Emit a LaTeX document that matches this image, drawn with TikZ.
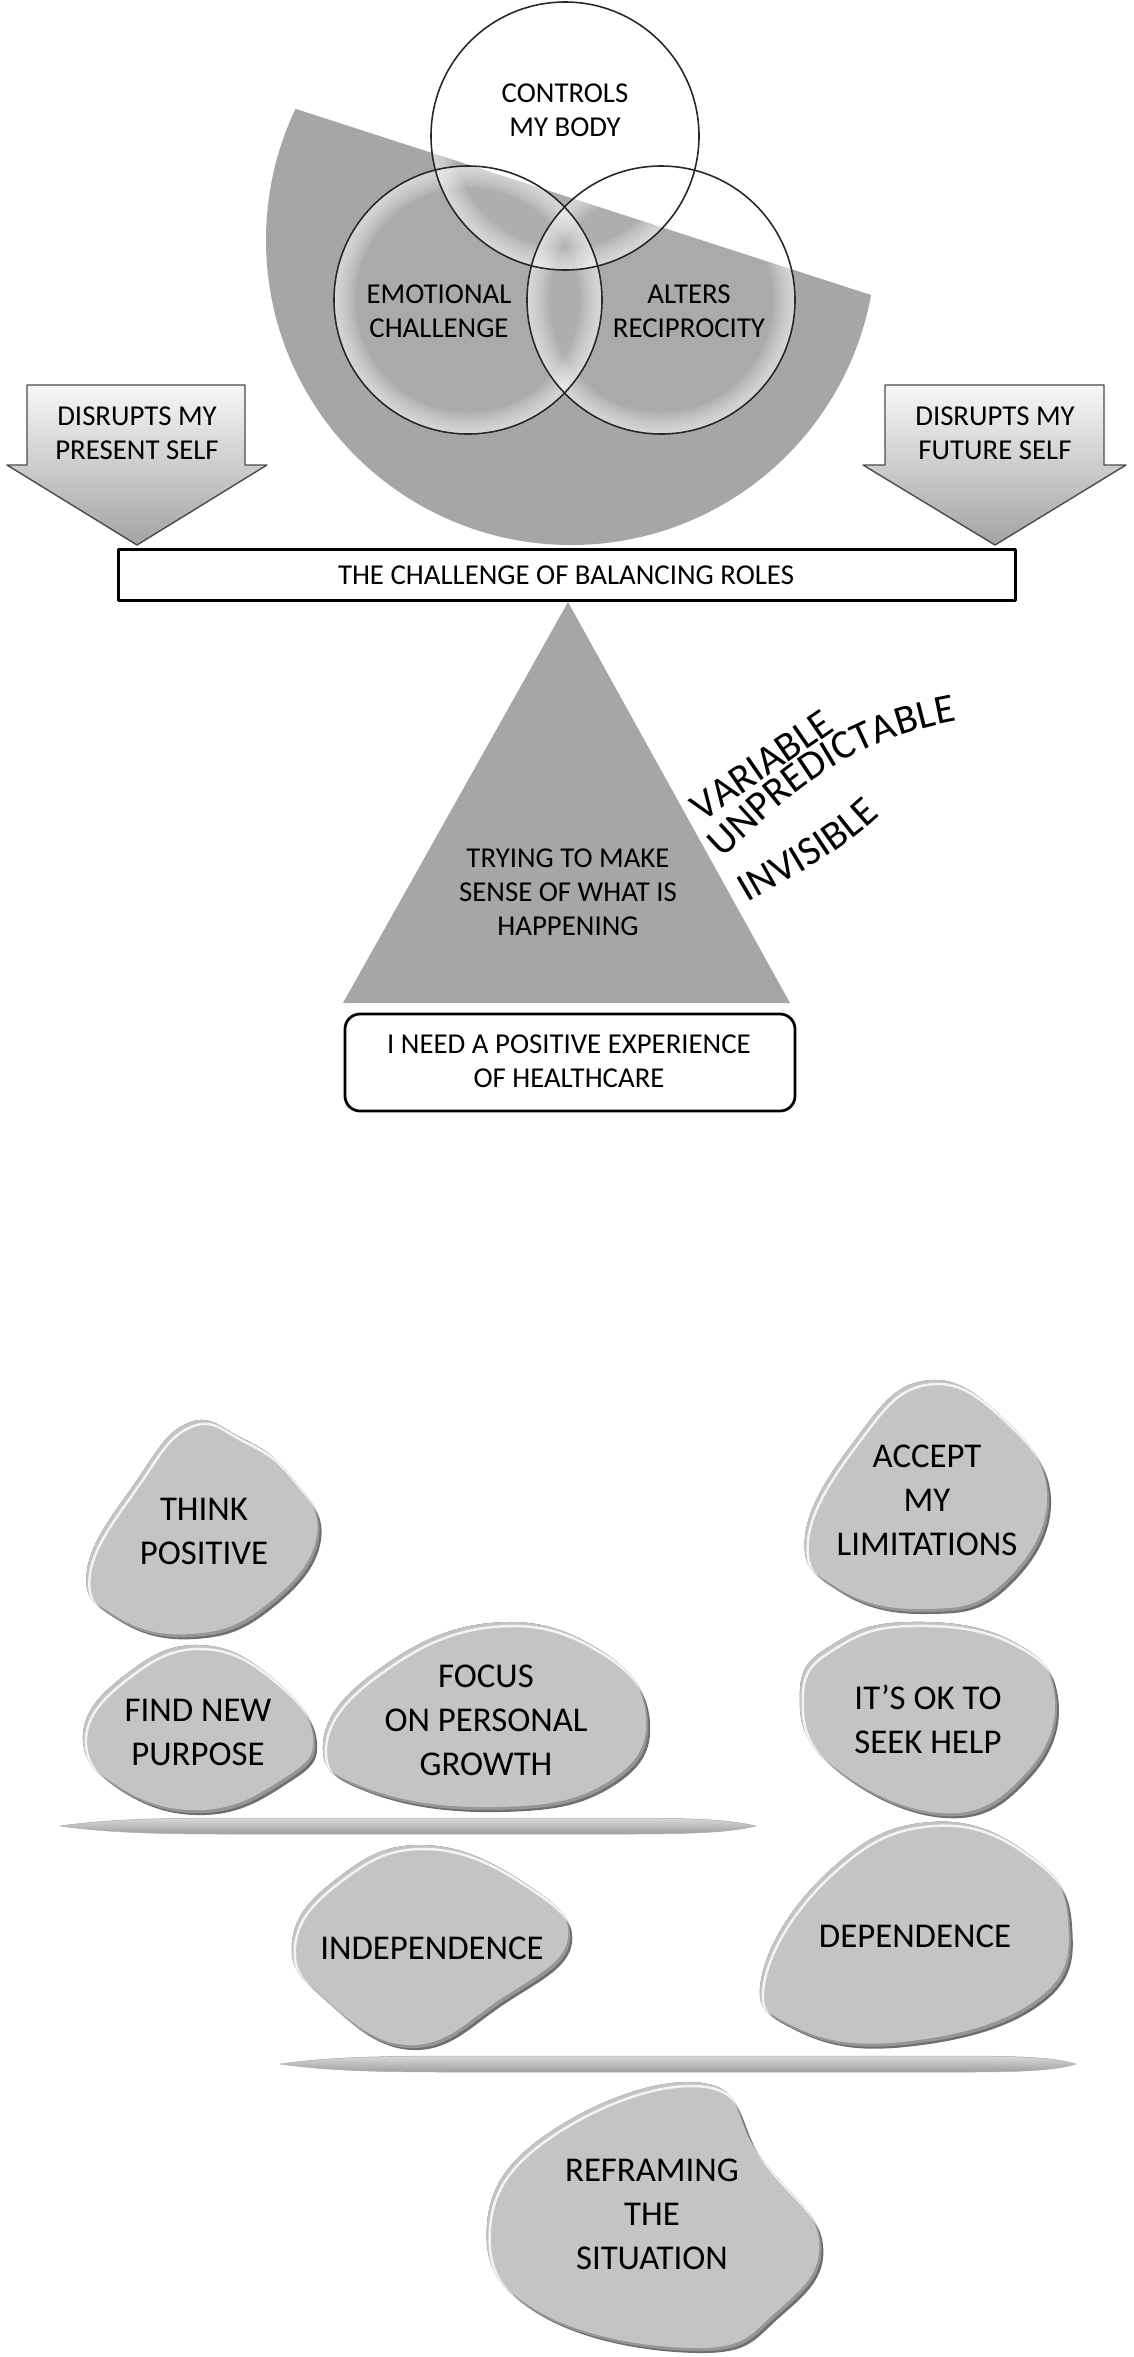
\documentclass[tikz,border=0pt]{standalone}
\usepackage{fontspec}
\setmainfont{Carlito}
\usetikzlibrary{decorations.text}

\newcommand{\toplbl}{\fontsize{16.4}{19.5}\selectfont}
\newcommand{\stonelbl}{\fontsize{19.8}{25}\selectfont}
\newcommand{\wavelbl}{\fontsize{23.3}{27}\selectfont}

% one pebble: dark rim, mid rim, face, gloss
\newcommand{\pebble}[1]{%
  \fill[stonerim] plot[smooth cycle,tension=0.75] coordinates {#1};
  \begin{scope}
    \clip plot[smooth cycle,tension=0.75] coordinates {#1};
    \fill[stonemid,shift={(-2,-2)}] plot[smooth cycle,tension=0.75] coordinates {#1};
    \fill[stonefill,shift={(-4,-5)}] plot[smooth cycle,tension=0.75] coordinates {#1};
    \draw[stonegloss,shift={(3,4)}] plot[smooth cycle,tension=0.75] coordinates {#1};
  \end{scope}}

\begin{document}
\begin{tikzpicture}[x=0.02cm,y=-0.02cm,line join=round,
  lbl/.style={font=\toplbl,align=center},
  pebblelbl/.style={font=\stonelbl,align=center},
  ring/.style={draw=ringline,line width=0.9pt},
  downarrow/.style={top color=gray!6,bottom color=gray!72,draw=black!70,line width=0.8pt},
  rodshade/.style={top color=gray!30,middle color=white,bottom color=gray!75,draw=gray!65,line width=0.3pt},
  stonegloss/.style={white,opacity=0.8,line width=0.05cm}]
  \definecolor{discgray}{RGB}{166,166,166}
  \definecolor{stonefill}{RGB}{196,196,196}
  \definecolor{stonemid}{RGB}{150,150,150}
  \definecolor{stonerim}{RGB}{110,110,110}
  \definecolor{ringline}{RGB}{40,40,40}

  \fill[white] (0,0) rectangle (1133,2357);
  \useasboundingbox (0,0) rectangle (1133,2357);

  % ---- cut disc behind the circles ----
  \begin{scope}
    \clip (200,77.9) -- (1000,336.7) -- (1000,700) -- (200,700) -- cycle;
    \fill[discgray] (571,240) circle[radius=305];
  \end{scope}

  % ---- three overlapping circles ----
  \foreach \cx/\cy in {565/136,468/300,661/300}{
    \begin{scope}
      \clip (\cx,\cy) circle[radius=134];
      \fill[white,opacity=0.05] (\cx,\cy) circle[radius=134];
      \foreach \w in {4,8,...,44}
        \draw[white,opacity=0.07,line width=\w*0.02cm] (\cx,\cy) circle[radius=134];
    \end{scope}}
  \foreach \cx/\cy in {565/136,468/300,661/300}
    \draw[ring] (\cx,\cy) circle[radius=134];
  \node[lbl] (body) at (565,110) {CONTROLS\\MY BODY};
  \node[lbl] (emo) at (439,311) {EMOTIONAL\\CHALLENGE};
  \node[lbl] (recip) at (689,311) {ALTERS\\RECIPROCITY};

  % ---- side arrows ----
  \shadedraw[downarrow] (27,385) -- (245,385) -- (245,465) -- (267,465)
    -- (137,545) -- (7,465) -- (27,465) -- cycle;
  \shadedraw[downarrow] (885,385) -- (1104,385) -- (1104,465) -- (1126,465)
    -- (995,545) -- (863,465) -- (885,465) -- cycle;
  \node[lbl] (present) at (137,433) {DISRUPTS MY\\PRESENT SELF};
  \node[lbl] (future) at (995,433) {DISRUPTS MY\\FUTURE SELF};

  % ---- beam and fulcrum ----
  \draw[fill=white,line width=0.06cm] (118,549) rectangle (1015,600);
  \node[lbl] (roles) at (566,575) {THE CHALLENGE OF BALANCING ROLES};
  \fill[discgray] (568,602) -- (790,1003) -- (343,1003) -- cycle;
  \node[lbl] (sense) at (568,892) {TRYING TO MAKE\\SENSE OF WHAT IS\\HAPPENING};
  \draw[fill=white,line width=0.055cm,rounded corners=0.3cm] (345,1014) rectangle (795,1111);
  \node[lbl] (care) at (569,1061) {I NEED A POSITIVE EXPERIENCE\\OF HEALTHCARE};

  % wavy words
  \path[decorate,decoration={text along path,text={|\wavelbl|VARIABLE}}]
    (702,822) -- (850,720);
  \path[decorate,decoration={text along path,text={|\wavelbl|UNPREDICTABLE}}]
    (722,858) .. controls (790,795) and (850,735) .. (975,718);
  \path[decorate,decoration={text along path,text={|\wavelbl|INVISIBLE}}]
    (748,903) .. controls (790,878) and (845,852) .. (890,805);

  % ---- pebbles ----
  \pebble{(188,1423) (240,1437) (290,1475) (321,1540) (270,1610) (195,1639) (118,1620) (87,1570) (137,1480)}
  \node[pebblelbl] (think) at (204,1531) {THINK\\POSITIVE};
  \pebble{(200,1645) (275,1680) (317,1742) (285,1785) (205,1815) (120,1790) (83,1735) (125,1675)}
  \node[pebblelbl] (purpose) at (198,1732) {FIND NEW\\PURPOSE};
  \pebble{(490,1623) (600,1650) (650,1722) (610,1788) (500,1812) (370,1793) (323,1745) (375,1672)}
  \node[pebblelbl] (growth) at (486,1720) {FOCUS\\ON PERSONAL\\GROWTH};
  \pebble{(923,1381) (1000,1415) (1051,1500) (1005,1590) (925,1614) (840,1592) (805,1537) (855,1440)}
  \node[pebblelbl] (limits) at (927,1500) {ACCEPT\\MY\\LIMITATIONS};
  \pebble{(910,1622) (1010,1640) (1058,1697) (1030,1778) (945,1818) (830,1765) (800,1690) (835,1643)}
  \node[pebblelbl] (help) at (928,1719) {IT’S OK TO\\SEEK HELP};

  % upper rod
  \shade[rodshade] (60,1826) .. controls (110,1819) and (160,1818) .. (240,1818) -- (620,1818)
    .. controls (700,1818) and (730,1820) .. (756,1826) .. controls (730,1832) and (700,1834) .. (620,1834)
    -- (240,1834) .. controls (160,1834) and (110,1833) .. (60,1826) -- cycle;

  \pebble{(420,1845) (520,1880) (572,1943) (503,2005) (413,2050) (325,2000) (292,1943) (335,1880)}
  \node[pebblelbl] (indep) at (432,1948) {INDEPENDENCE};
  \pebble{(931,1822) (1030,1855) (1072,1925) (1040,2005) (905,2047) (795,2030) (762,1975) (830,1870)}
  \node[pebblelbl] (dep) at (915,1936) {DEPENDENCE};

  % lower rod
  \shade[rodshade] (280,2064) .. controls (330,2057) and (380,2056) .. (460,2056) -- (960,2056)
    .. controls (1030,2056) and (1055,2058) .. (1076,2064) .. controls (1055,2070) and (1030,2072) .. (960,2072)
    -- (460,2072) .. controls (380,2072) and (330,2071) .. (280,2064) -- cycle;

  \pebble{(703,2083) (763,2160) (823,2245) (780,2317) (700,2353) (540,2315) (487,2225) (553,2130)}
  \node[pebblelbl] (reframe) at (652,2214) {REFRAMING\\THE\\SITUATION};
\end{tikzpicture}
\end{document}
